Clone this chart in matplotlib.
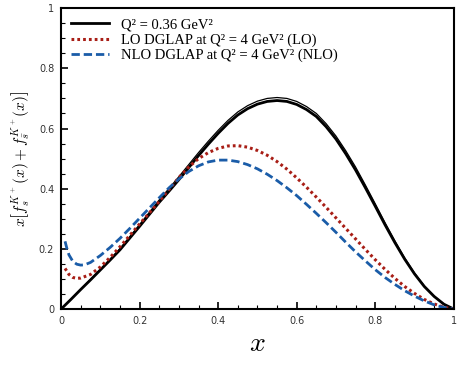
import matplotlib
matplotlib.use("Agg")
import matplotlib.pyplot as plt
from matplotlib.ticker import MultipleLocator, FuncFormatter

plt.rcParams['mathtext.fontset'] = 'cm'

# Q^2 = 0.36 GeV^2 (main thick curve)
x_q0 = [0, 0.025, 0.05, 0.075, 0.1, 0.125, 0.15, 0.175, 0.2, 0.225, 0.25,
        0.275, 0.3, 0.325, 0.35, 0.375, 0.4, 0.425, 0.45, 0.475, 0.5, 0.525,
        0.55, 0.575, 0.6, 0.625, 0.65, 0.675, 0.7, 0.725, 0.75, 0.775, 0.8,
        0.825, 0.85, 0.875, 0.9, 0.925, 0.95, 0.975, 1.0]
y_q0 = [0, 0.032, 0.065, 0.097, 0.13, 0.163, 0.197, 0.236, 0.275, 0.315,
        0.355, 0.392, 0.43, 0.47, 0.51, 0.548, 0.584, 0.617, 0.645, 0.666,
        0.681, 0.69, 0.693, 0.69, 0.68, 0.663, 0.64, 0.606, 0.565, 0.516,
        0.462, 0.403, 0.342, 0.28, 0.221, 0.166, 0.117, 0.075, 0.042, 0.016, 0]
# companion thin curve at Q^2 = 0.36 GeV^2
y_q0b = [0, 0.033, 0.066, 0.099, 0.132, 0.166, 0.201, 0.241, 0.281, 0.322,
         0.363, 0.401, 0.44, 0.48, 0.52, 0.558, 0.594, 0.627, 0.655, 0.676,
         0.691, 0.7, 0.703, 0.7, 0.69, 0.673, 0.65, 0.616, 0.575, 0.526,
         0.472, 0.412, 0.35, 0.287, 0.227, 0.17, 0.12, 0.077, 0.043, 0.016, 0]

# LO DGLAP at Q^2 = 4 GeV^2
x_lo = [0.01, 0.02, 0.03, 0.04, 0.05, 0.075, 0.1, 0.125, 0.15, 0.175, 0.2,
        0.225, 0.25, 0.275, 0.3, 0.325, 0.35, 0.375, 0.4, 0.425, 0.45, 0.475,
        0.5, 0.525, 0.55, 0.575, 0.6, 0.625, 0.65, 0.675, 0.7, 0.725, 0.75,
        0.775, 0.8, 0.825, 0.85, 0.875, 0.9, 0.925, 0.95, 0.975, 1.0]
y_lo = [0.135, 0.115, 0.105, 0.102, 0.103, 0.115, 0.14, 0.172, 0.207, 0.245,
        0.283, 0.32, 0.358, 0.398, 0.437, 0.472, 0.5, 0.52, 0.534, 0.542,
        0.543, 0.538, 0.527, 0.511, 0.49, 0.465, 0.436, 0.405, 0.372, 0.338,
        0.303, 0.268, 0.233, 0.198, 0.164, 0.132, 0.102, 0.075, 0.052, 0.032,
        0.017, 0.006, 0]

# NLO DGLAP at Q^2 = 4 GeV^2
x_nlo = [0.01, 0.015, 0.02, 0.03, 0.04, 0.05, 0.06, 0.075, 0.1, 0.125, 0.15,
         0.175, 0.2, 0.225, 0.25, 0.275, 0.3, 0.325, 0.35, 0.375, 0.4, 0.425,
         0.45, 0.475, 0.5, 0.525, 0.55, 0.575, 0.6, 0.625, 0.65, 0.675, 0.7,
         0.725, 0.75, 0.775, 0.8, 0.825, 0.85, 0.875, 0.9, 0.925, 0.95, 0.975,
         1.0]
y_nlo = [0.225, 0.2, 0.18, 0.158, 0.149, 0.146, 0.147, 0.155, 0.178, 0.205,
         0.235, 0.268, 0.302, 0.336, 0.37, 0.403, 0.432, 0.457, 0.476, 0.489,
         0.495, 0.495, 0.49, 0.48, 0.466, 0.448, 0.427, 0.403, 0.377, 0.348,
         0.318, 0.287, 0.255, 0.222, 0.19, 0.16, 0.131, 0.105, 0.082, 0.061,
         0.043, 0.027, 0.014, 0.005, 0]

labels = ["Q² = 0.36 GeV²",
          "LO DGLAP at Q² = 4 GeV² (LO)",
          "NLO DGLAP at Q² = 4 GeV² (NLO)"]
x_ticks = [0, 0.2, 0.4, 0.6, 0.8, 1.0]
y_ticks = [0, 0.2, 0.4, 0.6, 0.8, 1.0]

fig = plt.figure(figsize=(4.63, 3.71), dpi=100)
ax = fig.add_axes([0.132, 0.167, 0.848, 0.811])

red = '#a81e16'
blue = '#1a5ca8'

ax.plot(x_q0, y_q0b, color='black', lw=0.9)
ax.plot(x_q0, y_q0, color='black', lw=2.0, label=labels[0])
ax.plot(x_lo, y_lo, color=red, lw=2.2, linestyle=(0, (0.9, 1.0)), label=labels[1])
ax.plot(x_nlo, y_nlo, color=blue, lw=2.0, linestyle=(0, (3.0, 1.4)), label=labels[2])

ax.set_xlim(0, 1)
ax.set_ylim(0, 1)
ax.set_xticks(x_ticks)
ax.set_yticks(y_ticks)
fmt = FuncFormatter(lambda v, p: "%g" % v)
ax.xaxis.set_major_formatter(fmt)
ax.yaxis.set_major_formatter(fmt)
ax.xaxis.set_minor_locator(MultipleLocator(0.05))
ax.yaxis.set_minor_locator(MultipleLocator(0.05))
ax.tick_params(which='both', direction='in', top=False, right=False,
               labelsize=7, labelcolor='#333333', width=1.2)
ax.tick_params(which='major', length=5, pad=5)
ax.tick_params(which='minor', length=3, width=0.8)
for s in ax.spines.values():
    s.set_linewidth(1.5)

ax.set_xlabel(r"$x$", fontsize=20, labelpad=2)
ax.set_ylabel(r"$x\left[f_s^{K^+}(x)+f_{\bar{s}}^{K^+}(x)\right]$", fontsize=11, labelpad=5)

leg = ax.legend(loc='upper left', frameon=False, handlelength=2.6,
                labelspacing=0.12, borderaxespad=0.3, handletextpad=0.8,
                prop={'family': 'Liberation Serif', 'size': 10.5})

fig.savefig("out.png", dpi=100)
